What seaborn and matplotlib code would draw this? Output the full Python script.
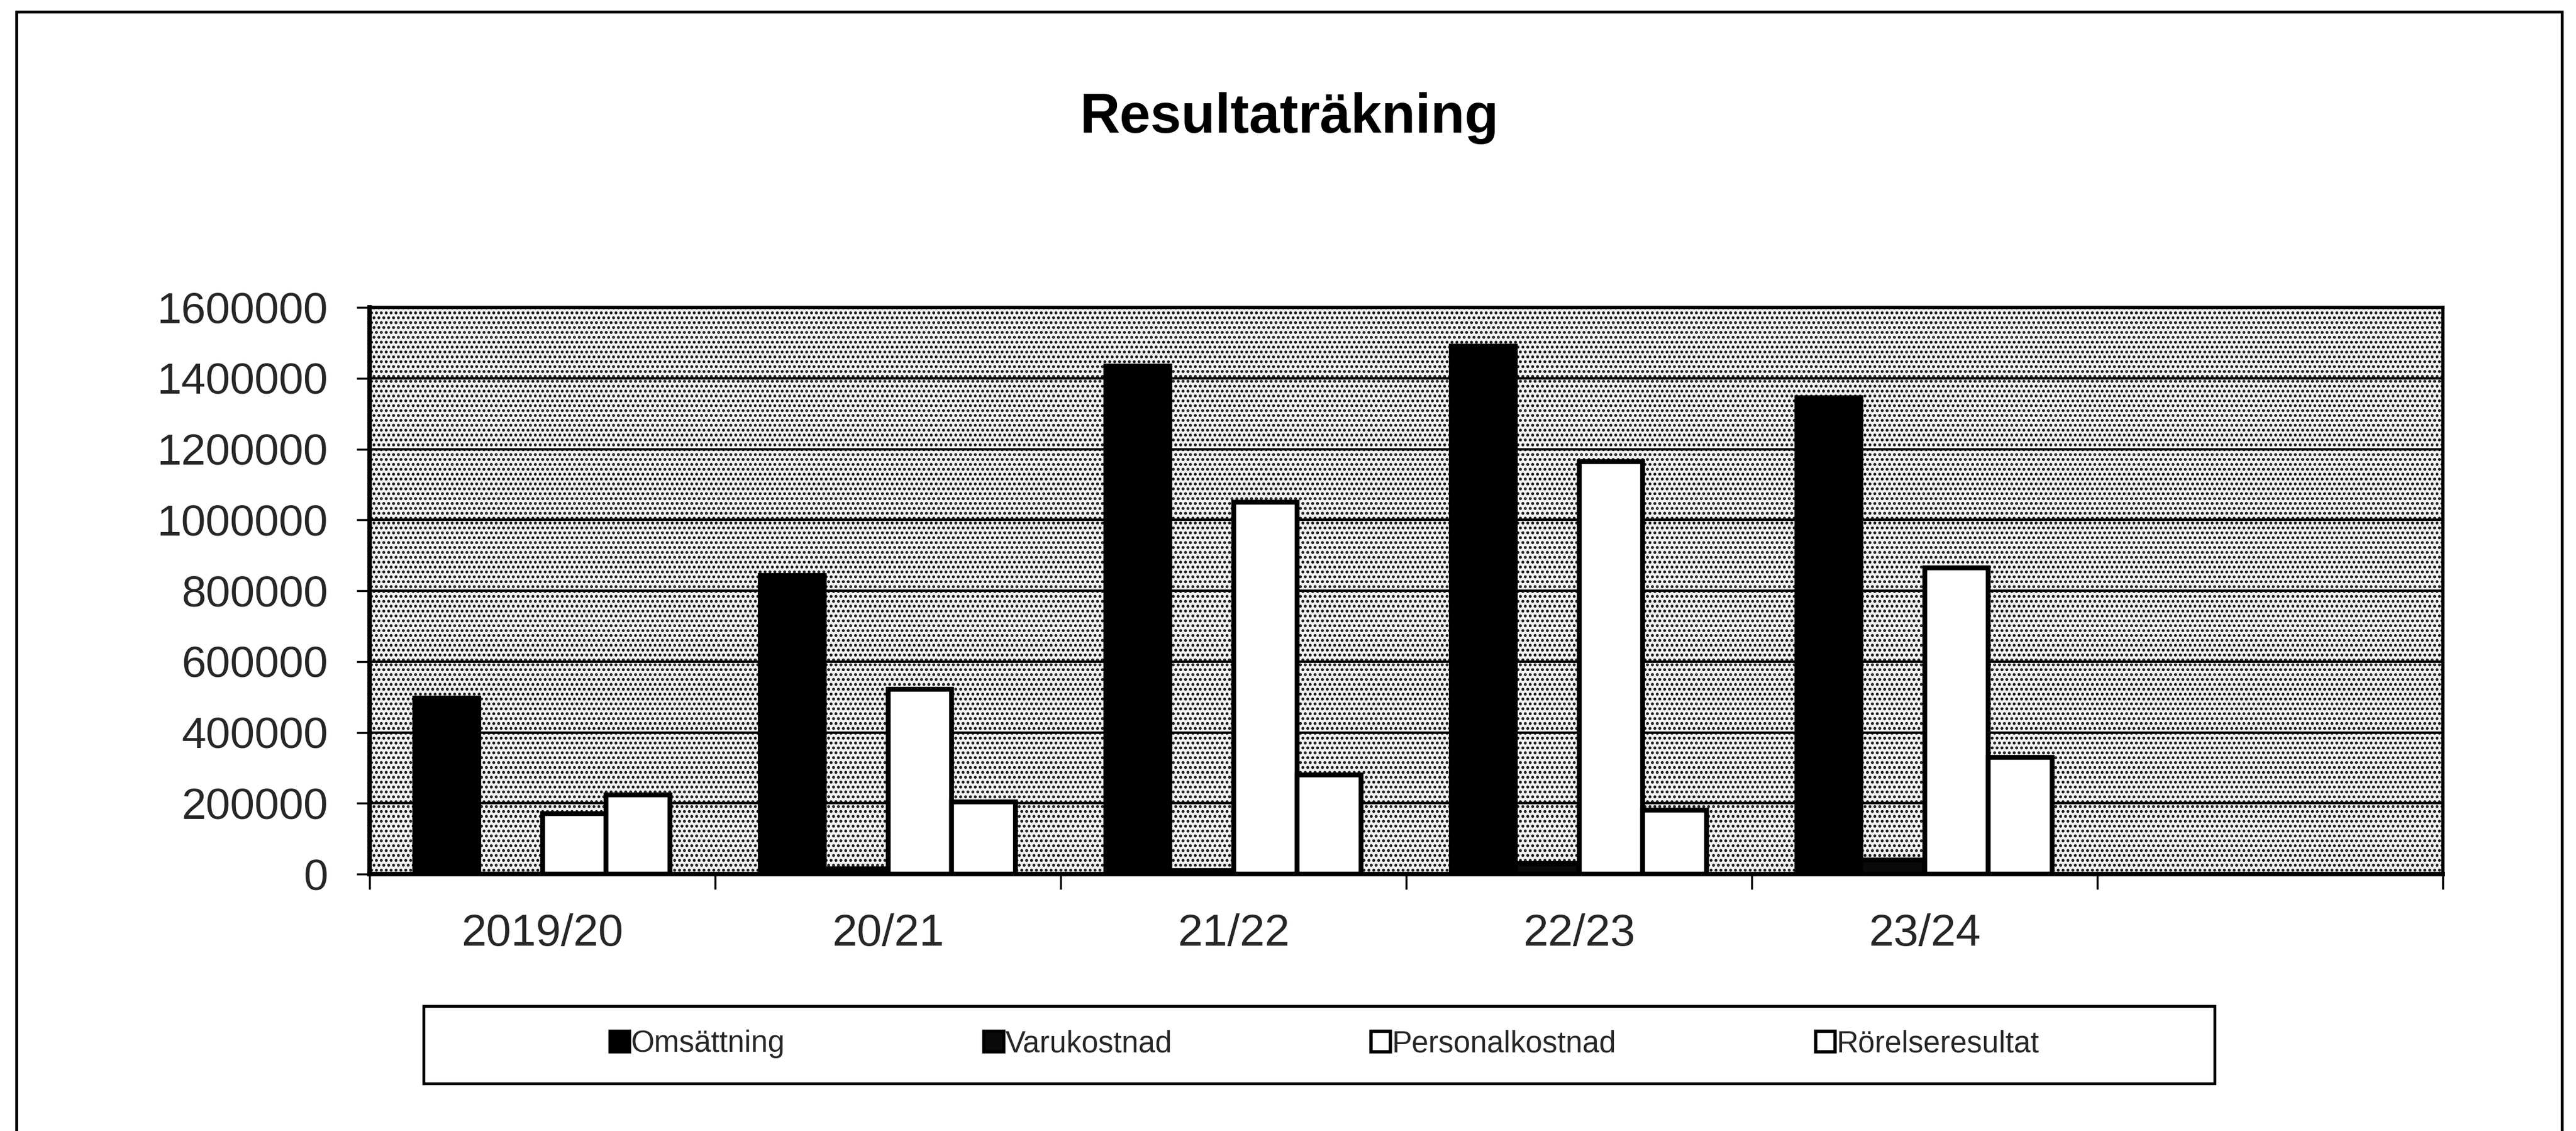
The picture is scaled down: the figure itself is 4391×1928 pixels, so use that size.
import matplotlib
matplotlib.use("Agg")
import matplotlib.pyplot as plt
import seaborn as sns
import pandas as pd
from matplotlib.patches import Rectangle

# ---- data ----
years = ["2019/20", "20/21", "21/22", "22/23", "23/24"]
series = ["Omsättning", "Varukostnad", "Personalkostnad", "Rörelseresultat"]
omsattning = [497000, 843000, 1435000, 1490000, 1345000]
varukostnad = [0, 15000, 10000, 30000, 40000]
personalkostnad = [171000, 522000, 1050000, 1165000, 865000]
rorelseresultat = [224000, 204000, 280000, 180000, 330000]
yticks = [0, 200000, 400000, 600000, 800000, 1000000, 1200000, 1400000, 1600000]
colors = ["#000000", "#0a0a0a", "#ffffff", "#ffffff"]

rows = []
for name, vals in zip(series, [omsattning, varukostnad, personalkostnad, rorelseresultat]):
    for y, v in zip(years, vals):
        rows.append({"year": y, "series": name, "value": v})
df = pd.DataFrame(rows)

sns.set_theme(style="white")
plt.rcParams["font.family"] = ["Liberation Sans", "DejaVu Sans"]
plt.rcParams["hatch.linewidth"] = 2.3

W, H = 4391, 1928
fig = plt.figure(figsize=(W / 100, H / 100), dpi=100)
fig.patch.set_facecolor("white")

ax = fig.add_axes([630 / W, 1 - 1490 / H, (4164 - 630) / W, (1490 - 524) / H])

# stippled background
ax.add_patch(Rectangle((0, 0), 1, 1, transform=ax.transAxes, facecolor="#f2f2f2",
                       edgecolor="#111111", hatch="..", lw=0, zorder=0))

plt.rcParams["hatch.linewidth"] = 1.0
sns.barplot(data=df, x="year", y="value", hue="series", order=years, hue_order=series,
            palette=colors, saturation=1, width=0.74, edgecolor="black", linewidth=6,
            ax=ax, legend=True, zorder=3)

handles, labels = ax.get_legend_handles_labels()
if ax.get_legend() is not None:
    ax.get_legend().remove()

ax.set_xlim(-0.5, 5.5)
ax.set_ylim(0, 1600000)
ax.set_yticks(yticks)
ax.set_yticklabels([str(t) for t in yticks], fontsize=54)
ax.tick_params(axis="y", direction="out", length=16, width=2.5, pad=35, color="black", left=True)

ax.set_xticks([i - 0.5 for i in range(7)])
ax.set_xticklabels([""] * 7)
ax.tick_params(axis="x", which="major", direction="out", length=19, width=2.5, color="black", bottom=True)
ax.set_xticks(range(len(years)), minor=True)
ax.set_xticklabels(years, minor=True, fontsize=55)
ax.tick_params(axis="x", which="minor", length=0, pad=48)

ax.set_xlabel("")
ax.set_ylabel("")
ax.yaxis.grid(True, color="black", linewidth=3)
ax.xaxis.grid(False)
ax.set_axisbelow(True)
for s in ax.spines.values():
    s.set_visible(True)
    s.set_color("black")
    s.set_linewidth(4)
ax.spines["left"].set_linewidth(5.5)
ax.spines["bottom"].set_linewidth(5.5)

# title
fig.text(2198 / W, 1 - 202 / H, "Resultaträkning", ha="center", va="center",
         fontsize=68, fontweight="bold", color="black")

# legend frame and legend
fig.patches.append(Rectangle((722 / W, 1 - 1847 / H), (3775 - 722) / W, (1847 - 1715) / H,
                             transform=fig.transFigure, facecolor="white", edgecolor="black",
                             lw=3.5, zorder=1))
leg = fig.legend(handles, labels, loc="center", bbox_to_anchor=(2258 / W, 1 - 1780 / H),
                 ncol=4, frameon=False, fontsize=37, handlelength=0.65, handleheight=0.65,
                 handletextpad=0.05, columnspacing=6.6)
for h in leg.legend_handles:
    h.set_edgecolor("black")
    h.set_linewidth(4)

# outer chart border
fig.patches.append(Rectangle((28 / W, -0.02), (4367 - 28) / W, 1.02 - 20 / H,
                             transform=fig.transFigure, facecolor="none", edgecolor="black",
                             lw=3.5, zorder=0))

fig.savefig("out.png", dpi=100, facecolor="white")
